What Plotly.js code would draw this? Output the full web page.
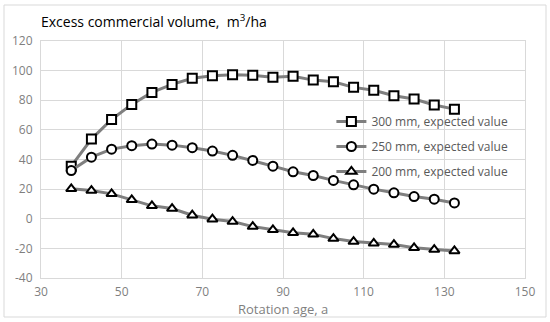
<!DOCTYPE html>
<html><head><meta charset="utf-8">
<script src="https://cdn.plot.ly/plotly-3.0.1.min.js"></script>
<style>html,body{margin:0;padding:0;background:#fff}#c{width:550px;height:322px}</style>
</head><body><div id="c"></div>
<script>
const ages = [37.5,42.5,47.5,52.5,57.5,62.5,67.5,72.5,77.5,82.5,87.5,92.5,97.5,102.5,107.5,112.5,117.5,122.5,127.5,132.5];
const v300 = [35.5,53.8,67,77.2,85.3,90.7,94.8,96.6,97.2,96.8,95.6,96.2,93.6,92.5,88.7,86.7,83,80.8,76.8,74];
const v250 = [32.5,41.6,47,49.3,50.4,49.7,48,45.7,42.8,39.4,35.5,31.7,29.2,25.9,22.9,20,17.5,15,13.2,10.7];
const v200 = [20.2,19,16.8,12.8,8.7,6.9,2.4,-0.3,-1.9,-5.3,-7.5,-9.5,-10.5,-13.4,-15.4,-16.6,-17.4,-19.6,-20.8,-21.7];
const names = ['300 mm, expected value','250 mm, expected value','200 mm, expected value'];
const xTicks = [30,50,70,90,110,130,150];
const yTicks = [-40,-20,0,20,40,60,80,100,120];

const symbols = ['square','circle','triangle-up'];
const series = [v300, v250, v200];
const traces = series.map((v,i)=>({
  x: ages, y: v, name: names[i], type:'scatter', mode:'lines+markers',
  legendgroup: 'g'+i,
  line:{color:'#7f7f7f', width:3},
  marker:{symbol:symbols[i], size:9, color:'#ffffff', line:{color:'#000000', width:2}}
}));

const layout = {
  width:550, height:322,
  margin:{l:41, r:25, t:41, b:44},
  paper_bgcolor:'#fff', plot_bgcolor:'#fff',
  font:{family:'Open Sans, Liberation Sans, sans-serif', color:'#595959', size:12},
  title:{text:'Excess commercial volume,  m<sup>3</sup>/ha', x:0.0, xref:'paper', xanchor:'left',
         y:1-22/322, yref:'container', yanchor:'middle',
         font:{size:14, color:'#000000', family:'Open Sans, Liberation Sans, sans-serif'}},
  xaxis:{range:[30,150], tickvals:xTicks, ticktext:xTicks.map(String),
         showgrid:true, gridcolor:'#d9d9d9', gridwidth:1, zeroline:false,
         showline:true, linecolor:'#d9d9d9', mirror:true, ticks:'', ticklabelstandoff:3,
         tickfont:{size:12, color:'#7f7f7f'}},
  yaxis:{range:[-40,120], tickvals:yTicks, ticktext:yTicks.map(String),
         showgrid:true, gridcolor:'#d9d9d9', gridwidth:1, zeroline:false,
         showline:true, linecolor:'#d9d9d9', mirror:true, ticks:'', ticklabelstandoff:5,
         tickfont:{size:12, color:'#7f7f7f'}},
  annotations:[{text:'Rotation age, a', xref:'paper', yref:'paper', x:0.5, y:(278-309)/237,
                xanchor:'center', yanchor:'middle', showarrow:false,
                font:{size:13, color:'#7f7f7f'}}],
  legend:{x:0.6, y:(278-107)/237, xanchor:'left', yanchor:'top', bgcolor:'rgba(0,0,0,0)',
          font:{size:12, color:'#595959'}, tracegroupgap:6, itemwidth:30},
  showlegend:true,
  shapes:[{type:'rect', xref:'paper', yref:'paper', x0:(4-41)/484, x1:(546-41)/484,
           y0:(278-317)/237, y1:(278-5)/237, line:{color:'#d9d9d9', width:1}, layer:'below'}]
};
Plotly.newPlot('c', traces, layout, {displayModeBar:false, staticPlot:true});
</script></body></html>
